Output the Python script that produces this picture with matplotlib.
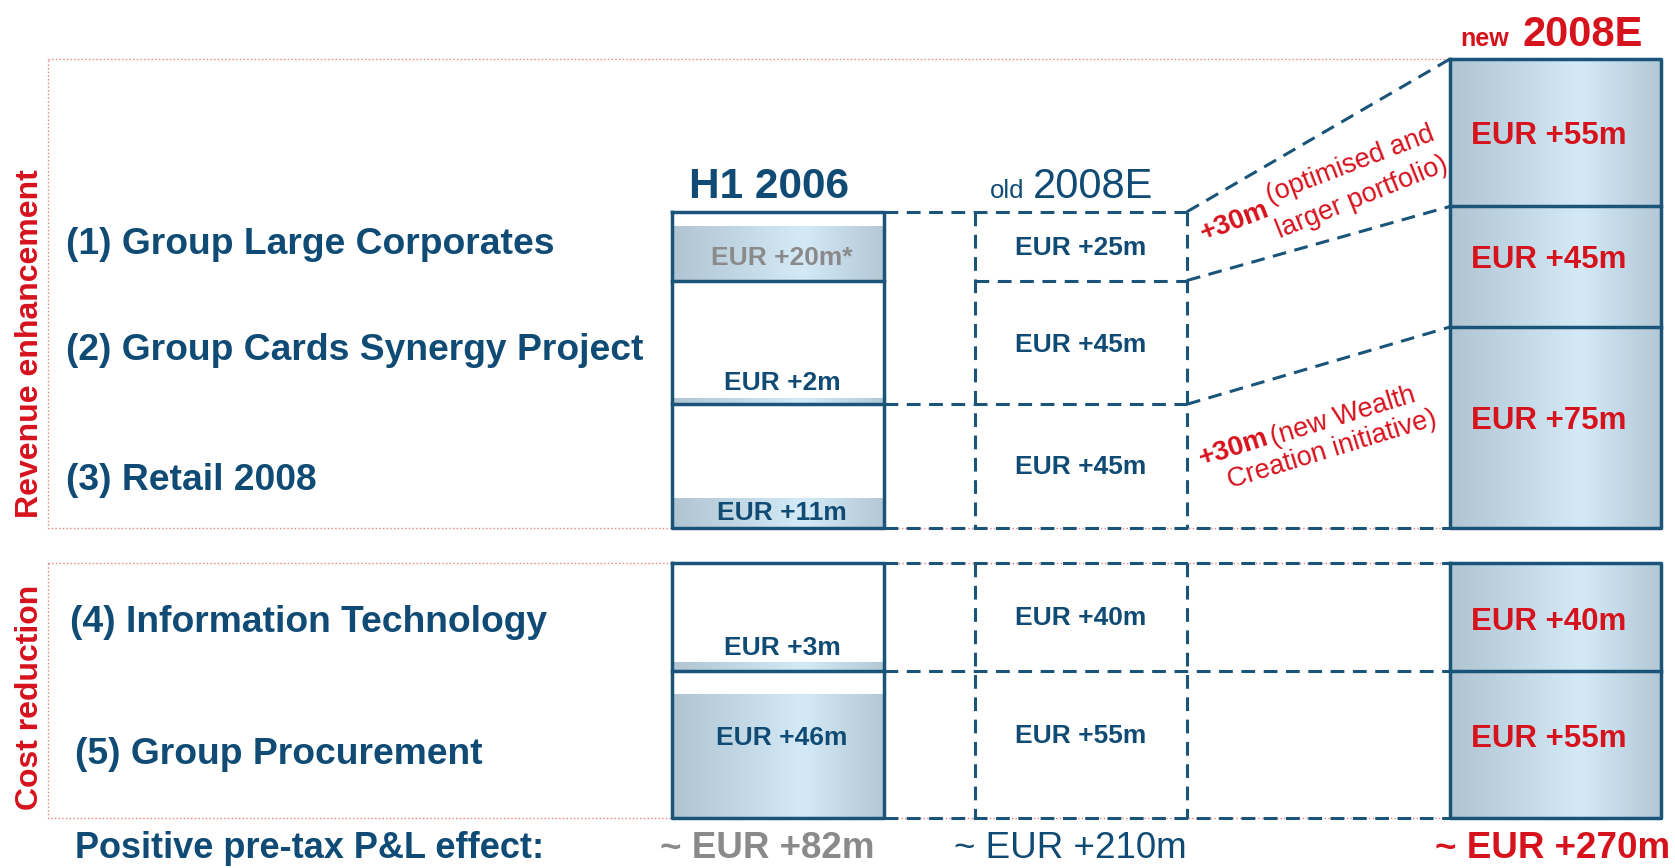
import numpy as np
import matplotlib.pyplot as plt
from matplotlib.colors import LinearSegmentedColormap

plt.rcParams['font.family'] = ['Liberation Sans', 'DejaVu Sans']

# data (EUR m)
labels_rev = ['(1) Group Large Corporates', '(2) Group Cards Synergy Project', '(3) Retail 2008']
labels_cost = ['(4) Information Technology', '(5) Group Procurement']
h1_rev = [20, 2, 11]
h1_cost = [3, 46]
old_rev = [25, 45, 45]
old_cost = [40, 55]
new_rev = [55, 45, 75]
new_cost = [40, 55]
totals = [82, 210, 270]
uplift = [30, 30]
uplift_notes = [('(optimised and', 'larger portfolio)'), ('(new Wealth', 'Creation initiative)')]

BLUE = '#0f4b74'
LINE = '#1a5479'
RED = '#d6121d'
GREY = '#8a8a8a'
PINK = '#e98080'

K = 2.68                       # px per EUR m
K_OLD = [2.75, 2.68]           # old column drawn a bit taller in the upper block
BASE_REV, BASE_COST = 528, 818
X_LEFT = 48
H1_X = (672, 884)
OLD_X = (975, 1187)
NEW_X = (1450, 1661)

cmap = LinearSegmentedColormap.from_list('g', ['#b0c4d2', '#d4eaf7'])
grad = np.interp(np.linspace(0, 1, 256), [0, 0.62, 1], [0, 1, 0.1])[None, :]


def edges(vals, base, k=K):
    top = base - k * sum(vals)
    return top + k * np.concatenate([[0], np.cumsum(vals)])


def grad_rect(ax, x0, x1, y0, y1):
    ax.imshow(grad, cmap=cmap, vmin=0, vmax=1, extent=(x0, x1, y1, y0),
              aspect='auto', interpolation='bilinear', zorder=1)


def dashed(ax, xs, ys):
    ax.plot(xs, ys, color=LINE, lw=2.2, ls=(0, (4.5, 2.8)), zorder=3)


fig = plt.figure(figsize=(16.75, 8.68), dpi=100)
ax = fig.add_axes([0, 0, 1, 1])

e_old = [edges(old_rev, BASE_REV, K_OLD[0]), edges(old_cost, BASE_COST, K_OLD[1])]
e_new = [edges(new_rev, BASE_REV), edges(new_cost, BASE_COST)]
h1 = [h1_rev, h1_cost]

for s in range(2):
    eo, en = e_old[s], e_new[s]
    # red dotted section frame
    ax.plot([X_LEFT, NEW_X[0], NEW_X[0], X_LEFT, X_LEFT],
            [en[0], en[0], en[-1], en[-1], en[0]], color=PINK, lw=1, ls=':', zorder=0)
    # H1 2006 bands and box
    for i, v in enumerate(h1[s]):
        grad_rect(ax, H1_X[0], H1_X[1], eo[i + 1] - K * v, eo[i + 1])
    ax.plot([H1_X[0], H1_X[1], H1_X[1], H1_X[0], H1_X[0]],
            [eo[0], eo[0], eo[-1], eo[-1], eo[0]], color=LINE, lw=2.5, zorder=4)
    for y in eo[1:-1]:
        ax.plot(H1_X, [y, y], color=LINE, lw=2.5, zorder=4)
    # old 2008E dashed grid
    for x in OLD_X:
        dashed(ax, [x, x], [eo[0], eo[-1]])
    if s == 0:
        dashed(ax, [H1_X[1], OLD_X[1]], [eo[0], eo[0]])
        dashed(ax, [OLD_X[0], OLD_X[1]], [eo[1], eo[1]])
        dashed(ax, [H1_X[1], OLD_X[1]], [eo[2], eo[2]])
        dashed(ax, [H1_X[1], NEW_X[0]], [eo[3], eo[3]])
        for i in range(3):
            dashed(ax, [OLD_X[1], NEW_X[0]], [eo[i], en[i]])
    else:
        for y in eo:
            dashed(ax, [H1_X[1], NEW_X[0]], [y, y])
    # new 2008E boxes
    grad_rect(ax, NEW_X[0], NEW_X[1], en[0], en[-1])
    ax.plot([NEW_X[0], NEW_X[1], NEW_X[1], NEW_X[0], NEW_X[0]],
            [en[0], en[0], en[-1], en[-1], en[0]], color=LINE, lw=2.5, zorder=4)
    for y in en[1:-1]:
        ax.plot(NEW_X, [y, y], color=LINE, lw=2.5, zorder=4)

# headers
ax.text(769, 187, 'H1 2006', color=BLUE, fontsize=30.5, fontweight='bold', ha='center', va='center')
ax.text(990, 198, 'old', color=BLUE, fontsize=18.5, ha='left', va='baseline')
ax.text(1033, 198, '2008E', color=BLUE, fontsize=30, ha='left', va='baseline')
ax.text(1460, 46, 'new', color=RED, fontsize=18, fontweight='bold', ha='left', va='baseline')
ax.text(1522, 46, '2008E', color=RED, fontsize=30, fontweight='bold', ha='left', va='baseline')

# side labels
ax.text(30, 344, 'Revenue enhancement', color=RED, fontsize=23, fontweight='bold',
        rotation=90, ha='center', va='center')
ax.text(30, 697, 'Cost reduction', color=RED, fontsize=23, fontweight='bold',
        rotation=90, ha='center', va='center')

# row labels
for lab, x, y in zip(labels_rev + labels_cost, [66, 66, 66, 70, 75], [245, 351, 481, 622, 755]):
    ax.text(x, y, lab, color=BLUE, fontsize=26.8, fontweight='bold', ha='left', va='center')

# values
h1_vals = h1_rev + h1_cost
h1_y = [258, 383, 513, 648, 738]
for i, (v, y) in enumerate(zip(h1_vals, h1_y)):
    txt = f'EUR +{v}m' + ('*' if i == 0 else '')
    ax.text(782, y, txt, color=GREY if i == 0 else BLUE, fontsize=19, fontweight='bold',
            ha='center', va='center', zorder=5)

old_y = [248, 345, 467, 618, 736]
for v, y in zip(old_rev + old_cost, old_y):
    ax.text(1081, y, f'EUR +{v}m', color=BLUE, fontsize=19, fontweight='bold',
            ha='center', va='center', zorder=5)

new_y = [136, 260, 421, 622, 739]
for v, y in zip(new_rev + new_cost, new_y):
    ax.text(1549, y, f'EUR +{v}m', color=RED, fontsize=22.5, fontweight='bold',
            ha='center', va='center', zorder=5)

# uplift annotations
ax.text(1204, 241, f'+{uplift[0]}m', color=RED, fontsize=20, fontweight='bold',
        rotation=21, rotation_mode='anchor', ha='left', va='baseline')
ax.text(1270, 203, uplift_notes[0][0], color=RED, fontsize=19.5,
        rotation=21, rotation_mode='anchor', ha='left', va='baseline')
ax.text(1280, 238, uplift_notes[0][1], color=RED, fontsize=19.5,
        rotation=22, rotation_mode='anchor', ha='left', va='baseline')
ax.text(1202, 466, f'+{uplift[1]}m', color=RED, fontsize=20, fontweight='bold',
        rotation=18, rotation_mode='anchor', ha='left', va='baseline')
ax.text(1273, 445, uplift_notes[1][0], color=RED, fontsize=19.5,
        rotation=17, rotation_mode='anchor', ha='left', va='baseline')
ax.text(1230, 488, uplift_notes[1][1], color=RED, fontsize=19.5,
        rotation=17, rotation_mode='anchor', ha='left', va='baseline')

# totals row
ax.text(75, 849, 'Positive pre-tax P&L effect:', color=BLUE, fontsize=26, fontweight='bold',
        ha='left', va='center')
ax.text(660, 849, f'~ EUR +{totals[0]}m', color=GREY, fontsize=26.5, fontweight='bold',
        ha='left', va='center')
ax.text(954, 849, f'~ EUR +{totals[1]}m', color=BLUE, fontsize=26.5, ha='left', va='center')
ax.text(1435, 849, f'~ EUR +{totals[2]}m', color=RED, fontsize=26.5, fontweight='bold',
        ha='left', va='center')

ax.set_xlim(0, 1675)
ax.set_ylim(868, 0)
ax.axis('off')
fig.savefig('out.png', dpi=100, facecolor='white')
